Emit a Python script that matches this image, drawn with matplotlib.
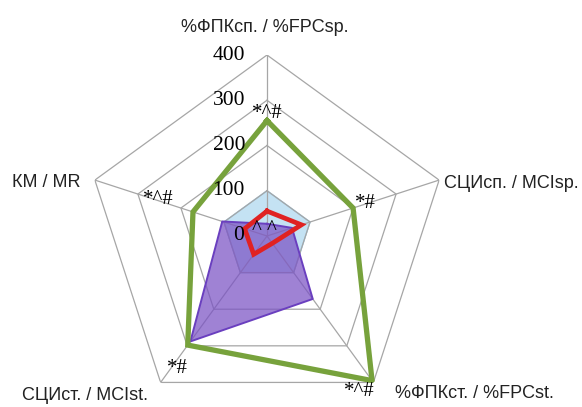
import numpy as np
import matplotlib
matplotlib.use('Agg')
import matplotlib.pyplot as plt

# Axis labels, clockwise from the top
categories = ['%ФПКсп. / %FPCsp.', 'СЦИсп. / MCIsp.', '%ФПКст. / %FPCst.',
              'СЦИст. / MCIst.', 'КМ / MR']

# Series values (% of control)
control = [100, 100, 100, 100, 100]
series_green = [255, 200, 395, 298, 172]
series_purple = [27, 58, 172, 288, 104]
series_red = [55, 80, 20, 50, 52]

rings = [100, 200, 300, 400]
ring_labels = ['100', '200', '300', '400']

# significance marks next to the green vertices
marks = ['*^#', '*#', '*^#', '*#', '*^#']

sans = 'Liberation Sans'
serif = 'Liberation Serif'

W, H = 582, 407
fig = plt.figure(figsize=(W / 100, H / 100), dpi=100)

# polar axes centred at (267, 236) px, radius 181 px
cx, cy, R = 267, 236, 181
ax = fig.add_axes([(cx - R) / W, (H - cy - R) / H, 2 * R / W, 2 * R / H],
                  projection='polar')
ax.set_theta_zero_location('N')
ax.set_theta_direction(-1)
ax.set_ylim(0, 400)
ax.grid(False)
ax.spines['polar'].set_visible(False)
ax.set_xticks([])
ax.set_yticks([])
ax.patch.set_alpha(0)

n = len(categories)
theta = np.arange(n) * 2 * np.pi / n
theta_c = np.append(theta, theta[0])


def closed(vals):
    return np.append(vals, vals[0])


# pentagon grid
grid_col = '#a6a6a6'
for r in rings:
    ax.plot(theta_c, [r] * (n + 1), color=grid_col, lw=0.9, zorder=1)
for t in theta:
    ax.plot([t, t], [0, rings[-1]], color=grid_col, lw=0.9, zorder=1)

# control area
ax.fill(theta_c, closed(control), color='#c4e2f3', zorder=0.5)
ax.plot(theta_c, closed(control), color='#9ccbe8', lw=0.9, zorder=0.6)

# purple area
ax.fill(theta_c, closed(series_purple), color='#7a52c4', alpha=0.72, lw=0, zorder=2)
ax.plot(theta_c, closed(series_purple), color='#6a3fbf', lw=1.4, zorder=2.1)

# lines
ax.plot(theta_c, closed(series_green), color='#77a23c', lw=3.8, zorder=3,
        solid_joinstyle='miter')
ax.plot(theta_c, closed(series_red), color='#e02222', lw=3.4, zorder=4,
        solid_joinstyle='miter')

# ring values along the top axis
ax.annotate('0', xy=(0, 0), xytext=(-23, 1), textcoords='offset pixels',
            ha='right', va='center', family=serif, fontsize=15.5, zorder=5)
for r, lab in zip(rings, ring_labels):
    ax.annotate(lab, xy=(0, r), xytext=(-22, 0), textcoords='offset pixels',
                ha='right', va='center', family=serif, fontsize=15.5, zorder=5)

# significance marks
offsets = [(0, 7), (12, 5), (-13, -11), (-10, -23), (-35, 12)]
for t, v, m, off in zip(theta, series_green, marks, offsets):
    ax.annotate(m, xy=(t, v), xytext=off, textcoords='offset pixels',
                ha='center', va='center', family=serif, fontsize=15, zorder=5)

for off in [(-10, 7), (5, 7)]:
    ax.annotate('^', xy=(0, 0), xytext=off, textcoords='offset pixels',
                ha='center', va='center', family=serif, fontsize=15, zorder=5)

# category labels
label_pos = [(265, 32, 'center'), (579, 188, 'right'), (395, 398, 'left'),
             (148, 400, 'right'), (12, 187, 'left')]
for lab, (x, y, ha) in zip(categories, label_pos):
    fig.text(x / W, 1 - y / H, lab, ha=ha, va='baseline', family=sans,
             fontsize=13, color='#222222')

fig.savefig('out.png', dpi=100)
